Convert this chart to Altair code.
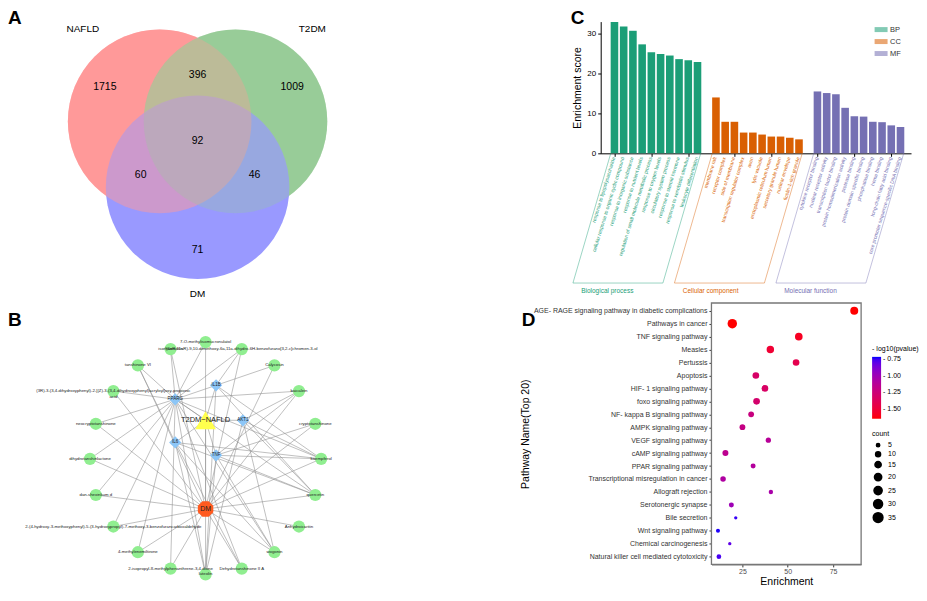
import altair as alt
import pandas as pd

FONT = "Liberation Sans"
panel_letters = ["A", "B", "C", "D"]

# ---------------- Panel A : Venn diagram ----------------
venn_sets = ["NAFLD", "T2DM", "DM"]
venn_cx = [-0.413, 0.413, 0.0]
venn_cy = [0.239, 0.239, -0.478]
venn_fill = ["#FF9999", "#99CC99", "#9999FF"]
venn_label_x = [-1.25, 1.25, 0.0]
venn_label_y = [1.25, 1.25, -1.64]
region_counts = [1715, 396, 1009, 92, 60, 46, 71]
region_x = [-1.01, 0.0, 1.03, 0.0, -0.62, 0.62, 0.0]
region_y = [0.61, 0.74, 0.61, 0.02, -0.35, -0.35, -1.16]

# ---------------- Panel B : network ----------------
green_labels = [
    "7-O-methylisomucronulatol",
    "isorhamnetin",
    "(6aR,11aR)-9,10-dimethoxy-6a,11a-dihydro-6H-benzofurano[3,2-c]chromen-3-ol",
    "tanshinone VI",
    "Calycosin",
    "(3R)-3-(3,4-dihydroxyphenyl)-2-[(Z)-3-(3,4-dihydroxyphenyl)acryloyl]oxy-propionic\nacid",
    "baicalein",
    "neocryptotanshinone",
    "cryptotanshinone",
    "dihydrotanshinlactone",
    "kaempferol",
    "dan-shexinkum d",
    "quercetin",
    "2-(4-hydroxy-3-methoxyphenyl)-5-(3-hydroxypropyl)-7-methoxy-3-benzofurancarboxaldehyde",
    "Anhydroicaritin",
    "4-methylenemiltirone",
    "wogonin",
    "2-isopropyl-8-methylphenanthrene-3,4-dione",
    "Dehydrotanshinone II A",
    "luteolin",
]
green_x = [0.0, -0.30, 0.31, -0.58, 0.59, -0.79, 0.80, -0.94, 0.94, -0.99,
           0.99, -0.94, 0.94, -0.79, 0.80, -0.58, 0.59, -0.30, 0.31, 0.0]
green_y = [0.99, 0.93, 0.93, 0.79, 0.79, 0.57, 0.57, 0.29, 0.29, -0.01,
           -0.01, -0.32, -0.32, -0.59, -0.59, -0.81, -0.81, -0.95, -0.95, -1.0]
hub_labels = ["PPARG", "IL1B", "AKT1", "IL6", "TNF"]
hub_x = [-0.26, 0.09, 0.32, -0.26, 0.09]
hub_y = [0.50, 0.62, 0.32, 0.13, 0.02]
disease_label = ["T2DM\u2212NAFLD"]
disease_x = [0.0]
disease_y = [0.32]
dm_label = ["DM"]
dm_x = [0.0]
dm_y = [-0.44]
hub_links = {
    "PPARG": [0, 1, 2, 3, 4, 5, 6, 7, 9, 11, 13, 15, 17, 19, 18, 16, 12, 10],
    "IL1B": [2, 10, 12, 19],
    "AKT1": [6, 10, 12, 19, 16],
    "IL6": [10, 12, 19, 3, 16, 18],
    "TNF": [8, 10, 12, 19, 16, 6],
}

# ---------------- Panel C : GO enrichment bars ----------------
go_groups = ["BP", "CC", "MF"]
go_group_names = ["Biological process", "Cellular component", "Molecular function"]
go_colors = ["#1B9E77", "#D95F02", "#7570B3"]
bp_terms = ["response to lipopolysaccharide", "cellular response to organic cyclic compound",
            "response to inorganic substance", "response to nutrient levels",
            "regulation of small molecule metabolic process", "response to oxygen levels",
            "circulatory system process", "response to steroid hormone",
            "response to xenobiotic stimulus", "leukocyte differentiation"]
bp_scores = [32.9, 31.8, 30.7, 27.3, 25.3, 24.9, 24.5, 23.6, 23.3, 22.9]
cc_terms = ["membrane raft", "receptor complex", "side of membrane",
            "transcription regulator complex", "axon", "lytic vacuole",
            "endoplasmic reticulum lumen", "secretory granule lumen",
            "nuclear envelope", "ficolin-1-rich granule"]
cc_scores = [14.0, 7.9, 7.9, 5.2, 5.2, 4.7, 4.2, 4.2, 3.9, 3.5]
mf_terms = ["cytokine receptor binding", "nuclear receptor activity",
            "transcription factor binding", "protein homodimerization activity",
            "protease binding", "protein domain specific binding", "phosphatase binding",
            "heme binding", "long-chain fatty acid binding",
            "core promoter sequence-specific DNA binding"]
mf_scores = [15.5, 15.1, 14.8, 11.4, 9.3, 9.2, 7.9, 7.8, 7.0, 6.6]

# ---------------- Panel D : KEGG dot plot ----------------
pathways = ["AGE- RAGE signaling pathway in diabetic complications", "Pathways in cancer",
            "TNF signaling pathway", "Measles", "Pertussis", "Apoptosis",
            "HIF- 1 signaling pathway", "foxo signaling pathway",
            "NF- kappa B signaling pathway", "AMPK signaling pathway",
            "VEGF signaling pathway", "cAMP signaling pathway", "PPAR signaling pathway",
            "Transcriptional misregulation in cancer", "Allograft rejection",
            "Serotonergic synapse", "Bile secretion", "Wnt signaling pathway",
            "Chemical carcinogenesis", "Natural killer cell mediated cytotoxicity"]
enrichment = [86.7, 19.4, 56.1, 40.4, 54.6, 32.4, 37.4, 32.8, 29.8, 25.0,
              39.3, 15.6, 30.9, 14.3, 40.7, 18.9, 21.3, 11.5, 18.0, 12.0]
neglogp = [-1.65, -1.65, -1.58, -1.52, -1.42, -1.32, -1.33, -1.30, -1.22, -1.20,
           -1.12, -1.15, -1.10, -1.08, -1.05, -1.00, -0.74, -0.72, -0.80, -0.76]
counts = [24, 33, 22, 21, 17, 17, 17, 17, 13, 13, 11, 14, 10, 12, 8, 10, 5, 7, 5, 9]
enrich_range = [7.9, 90.5]


def letter(ch, x, y):
    return alt.Chart(pd.DataFrame({"t": [ch]})).mark_text(
        fontSize=19, fontWeight="bold", align="left", baseline="top", color="black"
    ).encode(x=alt.value(x), y=alt.value(y), text="t:N")


# ===== A =====
A_W, A_H, UA = 322, 279, 92.0
ax = alt.Scale(domain=[-187 / UA, (A_W - 187) / UA], nice=False, zero=False)
ay = alt.Scale(domain=[-(A_H - 122) / UA, 122 / UA], nice=False, zero=False)
venn_df = pd.DataFrame({"set": venn_sets, "cx": venn_cx, "cy": venn_cy, "fill": venn_fill,
                        "lx": venn_label_x, "ly": venn_label_y, "k": [0, 1, 2]})
reg_df = pd.DataFrame({"n": [str(v) for v in region_counts], "x": region_x, "y": region_y})


def venn_layer(df, op):
    return alt.Chart(df).mark_circle(size=184 * 184, opacity=op).encode(
        x=alt.X("cx:Q", scale=ax, axis=None),
        y=alt.Y("cy:Q", scale=ay, axis=None),
        color=alt.Color("fill:N", scale=None),
        order=alt.Order("k:Q"),
    )


# opaque base circles, then partial re-draws to blend the overlaps
base = venn_layer(venn_df, 1.0)
mix_r = venn_layer(venn_df[venn_df["set"] == venn_sets[0]], 0.5)
mix_g = venn_layer(venn_df[venn_df["set"] == venn_sets[1]], 0.3)
set_text = alt.Chart(venn_df).mark_text(fontSize=10, color="black").encode(
    x=alt.X("lx:Q", scale=ax, axis=None), y=alt.Y("ly:Q", scale=ay, axis=None), text="set:N")
reg_text = alt.Chart(reg_df).mark_text(fontSize=10.5, color="black").encode(
    x=alt.X("x:Q", scale=ax, axis=None), y=alt.Y("y:Q", scale=ay, axis=None), text="n:N")
A = alt.layer(base, mix_r, mix_g, set_text, reg_text, letter(panel_letters[0], -3, -13)).properties(
    width=A_W, height=A_H)

# ===== B =====
B_W, B_H, UB = 332, 284, 117.0
bx = alt.Scale(domain=[-195 / UB, (B_W - 195) / UB], nice=False, zero=False)
by = alt.Scale(domain=[-(B_H - 155) / UB, 155 / UB], nice=False, zero=False)
edges = []
for i in range(len(green_x)):
    edges.append((dm_x[0], dm_y[0], green_x[i], green_y[i]))
for j in range(len(hub_x)):
    edges.append((disease_x[0], disease_y[0], hub_x[j], hub_y[j]))
edges.append((disease_x[0], disease_y[0], dm_x[0], dm_y[0]))
for j, h in enumerate(hub_labels):
    for i in hub_links[h]:
        edges.append((hub_x[j], hub_y[j], green_x[i], green_y[i]))
edge_df = pd.DataFrame(edges, columns=["x1", "y1", "x2", "y2"])
green_df = pd.DataFrame({"x": green_x, "y": green_y, "t": green_labels})
hub_df = pd.DataFrame({"x": hub_x, "y": hub_y, "t": hub_labels})
dis_df = pd.DataFrame({"x": disease_x, "y": disease_y, "t": disease_label})
dm_df = pd.DataFrame({"x": dm_x, "y": dm_y, "t": dm_label})


def bxy():
    return dict(x=alt.X("x:Q", scale=bx, axis=None), y=alt.Y("y:Q", scale=by, axis=None))


b_edges = alt.Chart(edge_df).mark_rule(color="#8C8C8C", strokeWidth=0.55).encode(
    x=alt.X("x1:Q", scale=bx, axis=None), y=alt.Y("y1:Q", scale=by, axis=None),
    x2="x2:Q", y2="y2:Q")
b_green = alt.Chart(green_df).mark_point(shape="circle", filled=True, size=150,
                                         color="#90EE90", opacity=1).encode(**bxy())
b_green_t = alt.Chart(green_df).mark_text(fontSize=4.3, color="#222", lineBreak="\n").encode(
    text="t:N", **bxy())
b_hub = alt.Chart(hub_df).mark_point(shape="diamond", filled=True, size=150,
                                     color="#8CC6F7", opacity=1).encode(**bxy())
b_hub_t = alt.Chart(hub_df).mark_text(fontSize=4.5, color="#222").encode(text="t:N", **bxy())
b_dis = alt.Chart(dis_df).mark_point(shape="triangle-up", filled=True, size=430,
                                     color="#FFFF4D", opacity=1).encode(**bxy())
b_dis_t = alt.Chart(dis_df).mark_text(fontSize=7.5, color="#222").encode(text="t:N", **bxy())
b_dm = alt.Chart(dm_df).mark_point(
    shape="M-0.41,-1L0.41,-1L1,-0.41L1,0.41L0.41,1L-0.41,1L-1,0.41L-1,-0.41Z",
    filled=True, size=240, color="#FF5A1F", opacity=1).encode(**bxy())
b_dm_t = alt.Chart(dm_df).mark_text(fontSize=7, color="#222").encode(text="t:N", **bxy())
B = alt.layer(b_edges, b_green, b_green_t, b_hub, b_hub_t, b_dis, b_dis_t, b_dm, b_dm_t,
              letter(panel_letters[1], -3, 8)).properties(width=B_W, height=B_H)

# ===== C =====
C_W, C_H = 311, 132
rows, frames, gnames = [], [], []
for gi, (g, terms, scores) in enumerate(zip(go_groups, [bp_terms, cc_terms, mf_terms],
                                            [bp_scores, cc_scores, mf_scores])):
    col = go_colors[gi]
    for i, (t, s) in enumerate(zip(terms, scores)):
        rows.append({"group": g, "term": t, "score": s, "pos": gi * 11 + i, "col": col})
    first, last = gi * 11, gi * 11 + len(terms) - 1
    tl, tr = first - 0.4, last + 0.35
    for k, (px, py) in enumerate([(tl, 0), (tl - 4.1, -32.5), (tr - 4.1, -32.5), (tr, 0)]):
        frames.append({"group": g, "k": k, "px": px, "py": py, "col": col})
    gnames.append({"name": go_group_names[gi], "px": tl - 4.1 + 0.9, "py": -34.6, "col": col})
c_df = pd.DataFrame(rows)
f_df = pd.DataFrame(frames)
g_df = pd.DataFrame(gnames)
cx = alt.Scale(domain=[-0.95, 31.6], nice=False, zero=False)
cy = alt.Scale(domain=[0, 33], nice=False, zero=True)
c_bars = alt.Chart(c_df).mark_bar(size=7.6).encode(
    x=alt.X("pos:Q", scale=cx, title=None,
            axis=alt.Axis(values=list(c_df["pos"]), labels=False, ticks=True, tickSize=3,
                          grid=False, domainColor="black", tickColor="black", domainWidth=1)),
    y=alt.Y("score:Q", scale=cy, title="Enrichment score",
            axis=alt.Axis(values=[0, 5, 10, 15, 20, 25, 30], grid=False, tickSize=3,
                          labelFontSize=8, titleFontSize=10.5, titleFontWeight="normal",
                          domainColor="black", tickColor="black", labelColor="black",
                          titleColor="black", labelPadding=2, titlePadding=4)),
    color=alt.Color("group:N", scale=alt.Scale(domain=go_groups, range=go_colors),
                    legend=alt.Legend(orient="none", legendX=276, legendY=3, title=None,
                                      symbolType="M-1.3,-0.5H1.3V0.5H-1.3Z", symbolSize=100,
                                      labelFontSize=7.5, rowPadding=3, symbolStrokeWidth=0,
                                      labelColor="#333")),
)
c_labels = alt.Chart(c_df).mark_text(fontSize=5, angle=287, align="right", baseline="middle",
                                     dx=-4).encode(
    x=alt.X("pos:Q", scale=cx), y=alt.datum(0), text="term:N",
    color=alt.Color("col:N", scale=None))
c_frames = alt.Chart(f_df).mark_line(strokeWidth=0.8, opacity=0.55).encode(
    x=alt.X("px:Q", scale=cx), y=alt.Y("py:Q", scale=cy), detail="group:N",
    order="k:Q", color=alt.Color("col:N", scale=None))
c_gnames = alt.Chart(g_df).mark_text(fontSize=6.5, align="left", baseline="middle").encode(
    x=alt.X("px:Q", scale=cx), y=alt.Y("py:Q", scale=cy), text="name:N",
    color=alt.Color("col:N", scale=None))
C = alt.layer(c_bars, c_labels, c_frames, c_gnames, letter(panel_letters[2], -30, -13)).properties(
    width=C_W, height=C_H)

# ===== D =====
D_W, D_H = 150, 262
BORDER = "#777777"
d_df = pd.DataFrame({"pathway": pathways, "enrichment": enrichment, "nlp": neglogp, "count": counts})
dxs = alt.Scale(domain=enrich_range, nice=False, zero=False)
dys = alt.Scale(type="point", padding=0.6, domain=pathways)
# panel frame (theme_bw border), drawn through the x scale across the whole domain
frame_df = pd.DataFrame({"x0": [enrich_range[0]], "x1": [enrich_range[1]]})
d_frame = alt.Chart(frame_df).mark_rect(fill="white", stroke=BORDER, strokeWidth=1.3).encode(
    x=alt.X("x0:Q", scale=dxs), x2="x1:Q", y=alt.value(0), y2=alt.value(D_H))
d_points = alt.Chart(d_df).mark_circle(opacity=1).encode(
    x=alt.X("enrichment:Q", scale=dxs, title="Enrichment",
            axis=alt.Axis(orient="bottom", values=[25, 50, 75], domain=True, domainColor=BORDER,
                          domainWidth=1.3, gridColor="#EBEBEB", gridWidth=0.7,
                          tickColor="#333", tickSize=2.5, labelFontSize=7, labelColor="#4D4D4D",
                          titleFontSize=10.5, titleFontWeight="normal", titleColor="black",
                          labelPadding=1, titlePadding=2)),
    y=alt.Y("pathway:N", scale=dys, title="Pathway Name(Top 20)",
            axis=alt.Axis(orient="left", domain=True, domainColor=BORDER, domainWidth=1.3,
                          gridColor="#EBEBEB", gridWidth=0.7, tickColor="#333",
                          tickSize=2.5, labelFontSize=7, labelColor="#333",
                          titleFontSize=10.5, titleFontWeight="normal", titleColor="black",
                          labelPadding=2, titlePadding=3, labelLimit=400)),
    color=alt.Color("nlp:Q", scale=alt.Scale(domain=[-1.65, -0.71], range=["#FF0000", "#0000FF"],
                                              interpolate="lab"),
                    legend=alt.Legend(orient="none", legendX=161, legendY=42,
                                      title="- log10(pvalue)", titleFontSize=7,
                                      titleFontWeight="normal", labelFontSize=7,
                                      gradientLength=62, gradientThickness=9,
                                      values=[-0.75, -1.0, -1.25, -1.5],
                                      labelExpr="'- ' + format(-datum.value, '.2f')",
                                      direction="vertical", gradientStrokeWidth=0)),
    size=alt.Size("count:Q", scale=alt.Scale(domain=[5, 35], range=[11, 95], zero=False),
                  legend=alt.Legend(orient="none", legendX=161, legendY=127, title="count",
                                    titleFontSize=7, titleFontWeight="normal", labelFontSize=7,
                                    values=[5, 10, 15, 20, 25, 30, 35], symbolFillColor="black",
                                    symbolStrokeColor="black", symbolOpacity=1, rowPadding=-2)),
)
D = alt.layer(d_frame, d_points, letter(panel_letters[3], -190, 8)).properties(
    width=D_W, height=D_H)

indep = dict(color="independent", size="independent")
top = alt.hconcat(A, C, spacing=239).resolve_scale(**indep)
bottom = alt.hconcat(B, D, spacing=178).resolve_scale(**indep)
chart = alt.vconcat(top, bottom, spacing=2, padding=0).resolve_scale(**indep).configure(
    font=FONT).configure_view(stroke="transparent", strokeWidth=0)

chart.save("out.html", embed_options={"renderer": "svg", "actions": False})
